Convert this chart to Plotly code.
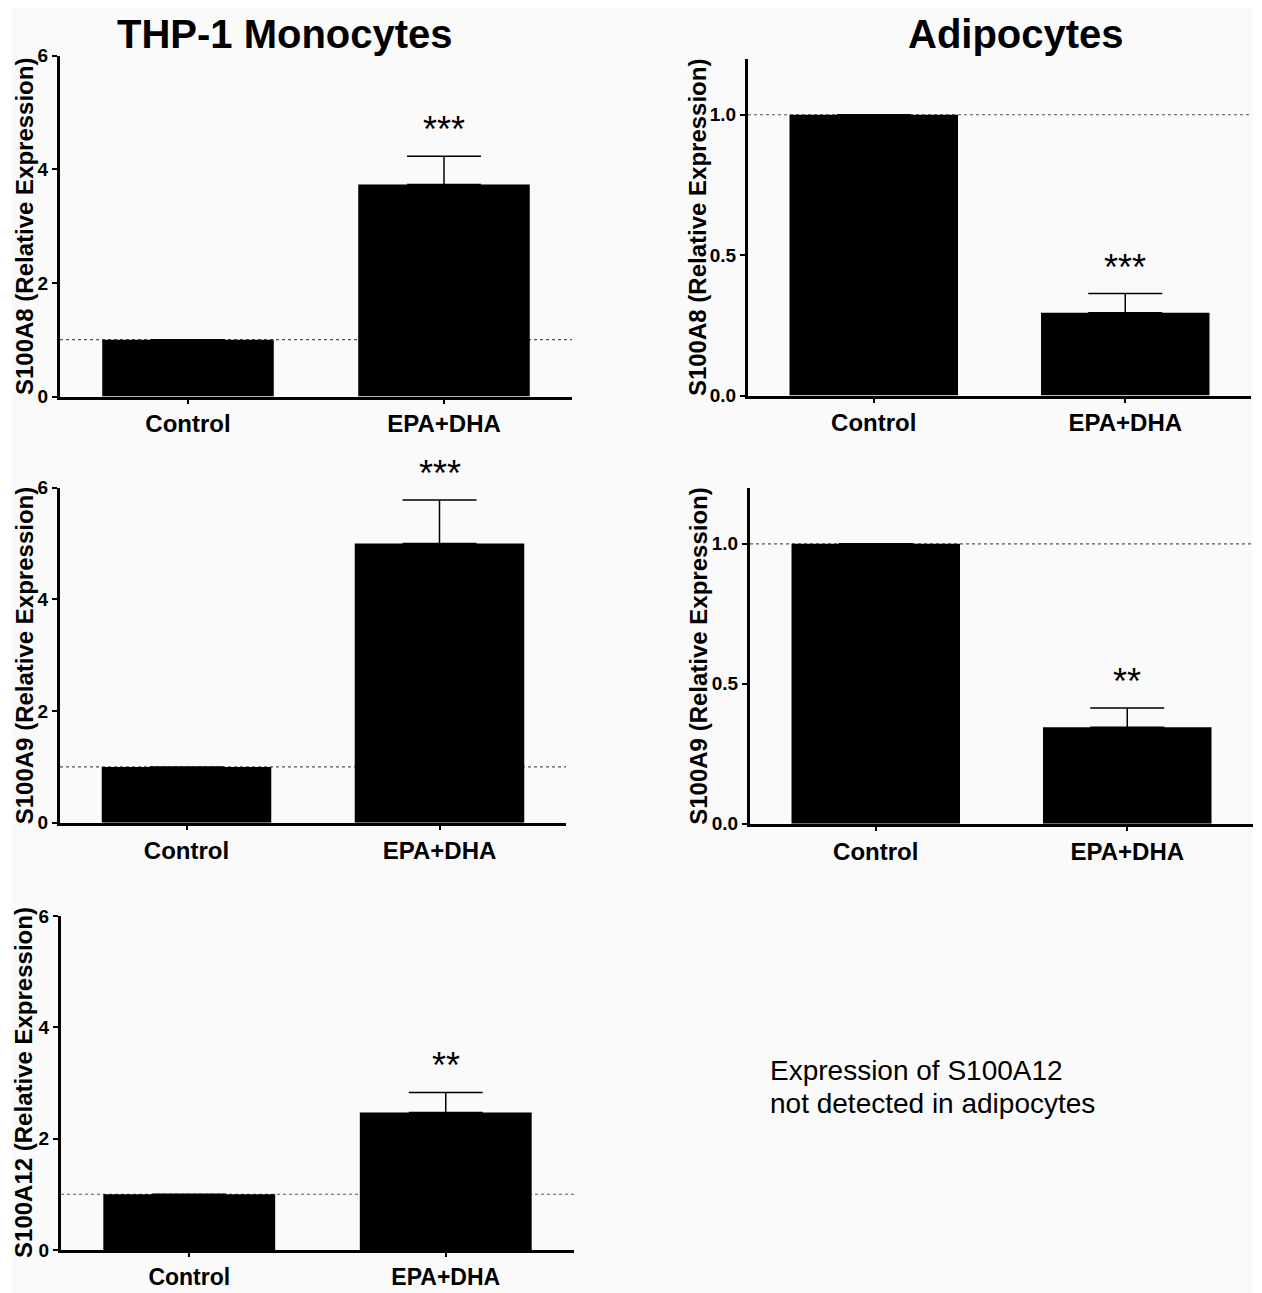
import plotly.graph_objects as go

# measured page placement: x is offset by 8px; y is offset and slightly compressed
PAGE_W, PAGE_H = 1262, 1293
OFF_X = 8
Y0, YS = 18.5, 0.981
W, H = PAGE_W - 2 * OFF_X, 1290

categories = ["Control", "EPA+DHA"]

# THP-1 monocytes
thp_s100a8_mean = [1.0, 3.73]
thp_s100a8_sem = [0.0, 0.50]
thp_s100a9_mean = [1.0, 5.0]
thp_s100a9_sem = [0.0, 0.78]
thp_s100a12_mean = [1.0, 2.47]
thp_s100a12_sem = [0.0, 0.36]

# Adipocytes
adi_s100a8_mean = [1.0, 0.295]
adi_s100a8_sem = [0.0, 0.068]
adi_s100a9_mean = [1.0, 0.345]
adi_s100a9_sem = [0.0, 0.068]

thp_sig = [["", "***"], ["", "***"], ["", "**"]]
adi_sig = [["", "***"], ["", "**"]]

reference_level = 1.0

left_ticks = [0, 2, 4, 6]
right_ticks = [0.0, 0.5, 1.0]

FONT = "Liberation Sans, Arial, sans-serif"


def clamp(v):
    return max(0.0, min(1.0, v))


def px(p):
    return (p - OFF_X) / W


def py(p):
    return 1 - ((p - Y0) / YS) / H


def xd(a, b):
    return [clamp(px(a)), clamp(px(b))]


def yd(top, bottom):
    return [clamp(py(bottom)), clamp(py(top))]


# (axis suffix, x pixel span, y pixel span, yrange, ticks, ytitle, title x, xfont, means, sems, sig)
panels = [
    ("", (60, 572), (56, 396), [0, 6], left_ticks, "S100A8 (Relative Expression)", 24, 24,
     thp_s100a8_mean, thp_s100a8_sem, thp_sig[0]),
    ("2", (748, 1251), (59, 395), [0, 1.2], right_ticks, "S100A8 (Relative Expression)", 697, 24,
     adi_s100a8_mean, adi_s100a8_sem, adi_sig[0]),
    ("3", (60, 566), (487, 821), [0, 6], left_ticks, "S100A9 (Relative Expression)", 24, 24,
     thp_s100a9_mean, thp_s100a9_sem, thp_sig[1]),
    ("4", (750, 1253), (487, 822), [0, 1.2], right_ticks, "S100A9 (Relative Expression)", 699, 24,
     adi_s100a9_mean, adi_s100a9_sem, adi_sig[1]),
    ("5", (61, 574), (914, 1247), [0, 6], left_ticks, "S100A12 (Relative Expression)", 24, 23,
     thp_s100a12_mean, thp_s100a12_sem, thp_sig[2]),
]

fig = go.Figure()
annotations = []
shapes = [
    dict(type="rect", xref="paper", yref="paper", x0=px(12), x1=px(1252),
         y0=-0.05, y1=1.05, fillcolor="#fafafa", line=dict(width=0),
         layer="below"),
]
layout_axes = {}

for suffix, (xa, xb), (yt, yb), yr, ticks, ytitle, tx, xfs, means, sems, sig in panels:
    xname = "x" + suffix
    yname = "y" + suffix
    fig.add_trace(go.Bar(
        x=categories, y=means, xaxis=xname, yaxis=yname,
        width=0.67,
        marker=dict(color="black", line=dict(width=0)),
        error_y=dict(type="data", array=sems, arrayminus=[0] * len(sems),
                     symmetric=False, color="black", thickness=1.5, width=37),
        showlegend=False, hoverinfo="skip",
    ))
    is_right = yr[1] < 2
    layout_axes["xaxis" + suffix] = dict(
        domain=xd(xa, xb), anchor=yname, type="category",
        range=[-0.5, 1.5], showgrid=False, zeroline=False,
        showline=True, linewidth=3, linecolor="black",
        ticks="outside", ticklen=4, tickwidth=2, tickcolor="black",
        tickfont=dict(family=FONT, size=xfs, color="black", weight="bold"),
        fixedrange=True,
    )
    layout_axes["yaxis" + suffix] = dict(
        domain=yd(yt, yb), anchor=xname, range=yr,
        tickvals=ticks, tickformat=".1f" if is_right else "d",
        showgrid=False, zeroline=False,
        showline=True, linewidth=3, linecolor="black",
        ticks="outside", ticklen=5, tickwidth=2, tickcolor="black",
        tickfont=dict(family=FONT, size=19, color="black", weight="bold"),
        fixedrange=True,
    )
    # dotted reference line at relative expression = 1
    shapes.append(dict(type="line", xref=xname + " domain", yref=yname,
                       x0=0, x1=1, y0=reference_level, y1=reference_level,
                       line=dict(color="#555555", width=1.2, dash="dot"),
                       layer="below"))
    # y-axis title
    annotations.append(dict(
        xref="paper", yref="paper", x=px(tx), y=py((yt + yb) / 2),
        text=ytitle, textangle=-90, showarrow=False,
        xanchor="center", yanchor="middle",
        font=dict(family=FONT, size=24, color="black", weight="bold"),
    ))
    # significance stars
    for c, m, s, t in zip(categories, means, sems, sig):
        if t:
            annotations.append(dict(
                xref=xname, yref=yname, x=c, y=m + s, text=t, showarrow=False,
                xanchor="center", yanchor="bottom", yshift=4,
                font=dict(family=FONT, size=36, color="black"),
            ))

# column titles
for label, cx in (("THP-1 Monocytes", 285), ("Adipocytes", 1016)):
    annotations.append(dict(xref="paper", yref="paper", x=px(cx), y=1.0,
                            text=label, showarrow=False,
                            xanchor="center", yanchor="top", yshift=8,
                            font=dict(family=FONT, size=40, color="black", weight="bold")))

# note for S100A12
annotations.append(dict(xref="paper", yref="paper", x=px(768), y=py(1068),
                        text="Expression of S100A12", showarrow=False,
                        xanchor="left", yanchor="middle",
                        font=dict(family=FONT, size=28, color="black")))
annotations.append(dict(xref="paper", yref="paper", x=px(768), y=py(1101),
                        text="not detected in adipocytes", showarrow=False,
                        xanchor="left", yanchor="middle",
                        font=dict(family=FONT, size=28, color="black")))

fig.update_layout(
    width=W, height=H,
    margin=dict(l=0, r=0, t=0, b=0),
    paper_bgcolor="white", plot_bgcolor="rgba(0,0,0,0)",
    shapes=shapes, annotations=annotations,
    bargap=0.33, showlegend=False,
    **layout_axes,
)

fig.write_html("out.html")
